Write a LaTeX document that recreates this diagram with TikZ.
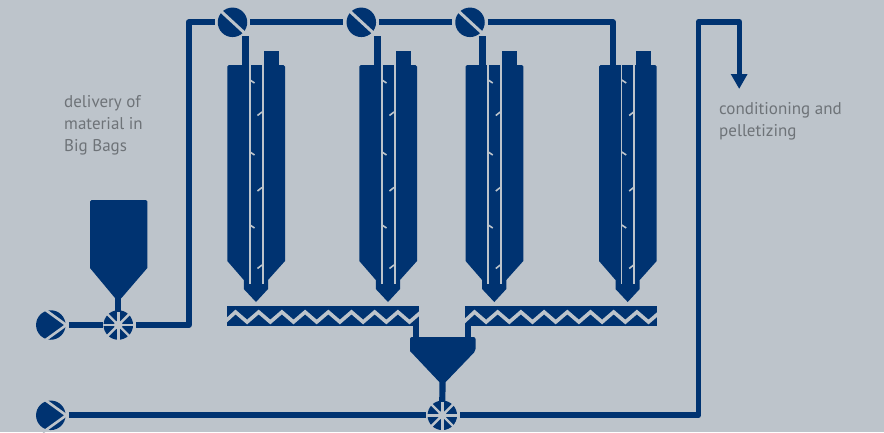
\documentclass[tikz,border=0pt]{standalone}
\usepackage{fontspec}
\setmainfont{PT Sans}
\definecolor{bgc}{HTML}{BDC4CB}
\definecolor{blu}{HTML}{003371}
\definecolor{txt}{HTML}{6E7378}
\tikzset{
  pipe/.style={draw=blu,line width=5.8pt,line join=round},
  gapped/.style={pipe,shorten <=3pt,shorten >=3pt},
  valvedisc/.style={circle,fill=blu,inner sep=0pt,minimum size=29.5pt},
  cut/.style={draw=bgc,line width=3pt},
  thincut/.style={draw=bgc,line width=1.8pt},
  solid fill/.style={fill=blu,draw=none},
  band/.style={rectangle,fill=blu,inner sep=0pt,minimum width=192pt,minimum height=19.5pt},
  label text/.style={text=txt,inner sep=0pt,anchor=north west,align=left,font=\fontsize{17}{22}\selectfont},
}
\newcommand{\slashvalve}[3]{%
  \node[valvedisc] (#1) at (#2,#3) {};
  \draw[cut] (#2-12.5,#3-12) -- (#2+13.5,#3+12);
}
\newcommand{\rotvalve}[3]{%
  \node[valvedisc] (#1) at (#2,#3) {};
  \foreach \a in {0,45,...,315}{\draw[thincut,line width=2.4pt] (#2,#3) -- ++(\a:16);}
  \fill[bgc] (#2,#3) circle (4.5pt);
}
\newcommand{\pump}[3]{%
  \node[valvedisc] (#1) at (#2,#3) {};
  \draw[cut,line width=2.6pt] (#2-8,#3-17) -- (#2+15.5,#3) -- (#2-8,#3+17);
}
\newcommand{\silo}[1]{%
  \begin{scope}[xshift=#1pt]
    \fill[blu] (264,66) rectangle (279,51);
    \path[solid fill] (227.3,261) [rounded corners=1.5pt] -- (227.3,65) -- (285,65) [sharp corners] -- (285,261)
      -- (268,280) -- (268,289) -- (256,302) -- (243.8,289) -- (243.8,280) -- cycle;
    \draw[thincut] (249.8,60) -- (249.8,284);
    \draw[thincut] (262.6,65) -- (262.6,284);
    \foreach \yy in {80,152,225}{\draw[thincut,line width=1.6pt] (250,\yy) -- (254.5,\yy+3);}
    \foreach \yy in {115.5,191,268.5}{\draw[thincut,line width=1.6pt] (262,\yy-3.5) -- (257.5,\yy);}
  \end{scope}
}
\newcommand{\zigzag}[3]{%
  \begin{scope}
    \clip (#1,306) rectangle (#1+192,326);
    \draw[draw=bgc,line width=3.6pt,line join=miter]
      (#2-10.8,322) -- (#2,312)
      \foreach \k [evaluate=\k as \xv using #2+\k*#3+#3/2,evaluate=\k as \xp using #2+(\k+1)*#3] in {0,...,8}
        { -- (\xv,322) -- (\xp,312) };
  \end{scope}
}
\begin{document}
\begin{tikzpicture}[x=1pt,y=-1pt]
\useasboundingbox (0,0) rectangle (884,432);
\fill[bgc] (0,0) rectangle (884,432);

% silos
\silo{0}
\silo{132}
\silo{238.3}
\silo{371.7}

% conveyors
\node[band] (conv1) at (323,316) {};
\node[band] (conv2) at (561,316) {};
\zigzag{227}{235.5}{23.2}
\zigzag{465}{474.5}{23.2}

% hoppers
\path[solid fill] (90,268) [rounded corners=1.5pt] -- (90,200) -- (147.3,200) [sharp corners] -- (147.3,268) -- (121.5,298) -- (115,298) -- cycle;
\path[solid fill] (410,351) [rounded corners=2pt] -- (410,337) -- (475.5,337) -- (475.5,351) [sharp corners] -- (445.7,382) -- (439.3,382) -- cycle;
\coordinate (bagout) at (118.3,297);
\coordinate (hopout) at (442.5,381);
\coordinate (hopinL) at (416.2,338);
\coordinate (hopinR) at (467.9,338);
\coordinate (convoutL) at (416.2,325);
\coordinate (convoutR) at (467.9,325);

% valves and pumps
\slashvalve{v1}{232.5}{22.3}
\slashvalve{v2}{361.3}{22.3}
\slashvalve{v3}{470}{22.3}
\rotvalve{r1}{118.3}{325}
\rotvalve{r2}{442.3}{415.3}
\pump{p1}{50.8}{325}
\pump{p2}{50.8}{415.3}

% connectors
\coordinate (s1) at (245.2,66);
\coordinate (s2) at (377.3,66);
\coordinate (s3) at (482.6,66);
\coordinate (s4) at (612.9,66);
\coordinate (c1) at (188.7,325);
\coordinate (c2) at (188.7,22.3);
\coordinate (c3) at (612.9,22.3);
\coordinate (c4) at (698.4,415.3);
\coordinate (c5) at (698.4,22);
\coordinate (c6) at (739.4,22);
\coordinate (c7) at (739.4,76);
\coordinate (a1) at (245.2,36.2);
\coordinate (a2) at (377.3,36.2);
\coordinate (a3) at (482.6,36.2);

\draw[pipe,shorten <=3pt] (p1.east) -- (r1.west);
\draw[pipe,shorten <=3pt,shorten >=0pt] (r1.east) -- (c1) -- (c2) -- ([xshift=-3pt]v1.west);
\draw[gapped] (v1.east) -- (v2.west);
\draw[gapped] (v2.east) -- (v3.west);
\draw[pipe,shorten <=3pt] (v3.east) -- (c3) -- (s4);
\draw[pipe,line width=6.8pt] (a1) -- (s1);
\draw[pipe,line width=6.8pt] (a2) -- (s2);
\draw[pipe,line width=6.8pt] (a3) -- (s3);
\draw[pipe] (bagout) -- ([yshift=-1.5pt]r1.north);
\draw[pipe,line width=6.2pt] (hopout) -- ([yshift=-1.5pt]r2.north);
\draw[pipe,line width=6.2pt] (convoutL) -- (hopinL);
\draw[pipe,line width=6.2pt] (convoutR) -- (hopinR);
\draw[pipe,shorten <=3pt] (p2.east) -- ([xshift=-1.5pt]r2.west);
\draw[pipe,shorten <=3pt] (r2.east) -- (c4) -- (c5) -- (c6) -- (c7);
\path[solid fill] (730.7,74) -- (747.6,74) -- (739.2,88.7) -- cycle;

% labels
\node[label text] (t1) at (64,95) {delivery of\\material in\\Big Bags};
\node[label text] (t2) at (719,102) {conditioning and\\pelletizing};
\end{tikzpicture}
\end{document}
